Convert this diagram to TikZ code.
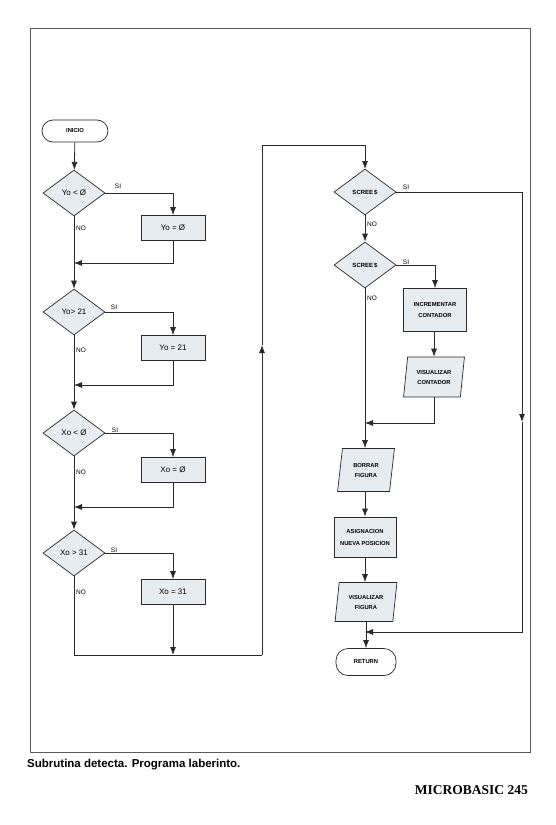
\documentclass[tikz,border=0pt]{standalone}
\usepackage{fontspec}
\setmainfont{Liberation Sans}
\newfontfamily\serifbold{Liberation Serif}
\usetikzlibrary{shapes.geometric,arrows.meta}
\definecolor{boxfill}{RGB}{230,236,240}
\definecolor{ink}{RGB}{40,40,45}
\definecolor{framec}{RGB}{90,90,95}
\begin{document}
\begin{tikzpicture}[x=1pt,y=-1pt,
  dec/.style={diamond, draw=ink, fill=boxfill, line width=0.7pt, minimum width=62pt, minimum height=46pt, inner sep=0pt, font=\fontsize{8}{9}\selectfont},
  smalldec/.style={dec, font=\fontsize{6}{6}\selectfont\bfseries},
  proc/.style={rectangle, draw=ink, fill=boxfill, line width=0.7pt, minimum width=64pt, minimum height=25pt, inner sep=1pt, font=\fontsize{8}{9}\selectfont, align=center},
  bproc/.style={proc, font=\fontsize{5.8}{11}\selectfont\bfseries},
  io/.style={trapezium, trapezium left angle=80, trapezium right angle=100, trapezium stretches=true, draw=ink, fill=boxfill, line width=0.7pt, inner sep=1pt, align=center, font=\fontsize{5.8}{10}\selectfont\bfseries},
  term/.style={rectangle, rounded corners=11pt, draw=ink, fill=white, line width=0.7pt, minimum height=22pt, inner sep=1pt, font=\fontsize{5.8}{6}\selectfont\bfseries},
  lbl/.style={inner sep=0pt, font=\fontsize{6.5}{7}\selectfont},
  flow/.style={draw=ink, line width=0.8pt},
  arr/.style={-{Latex[length=8pt,width=6pt]}}
]
\useasboundingbox (0,0) rectangle (556,825);
\draw[framec, line width=0.9pt] (30,28) rectangle (530,752);

% left column
\node[term, minimum width=66pt] (inicio) at (75,131) {INICIO};
\node[dec] (d1) at (74,193) {Yo < Ø};
\node[proc] (b1) at (173,228) {Yo = Ø};
\node[dec] (d2) at (74,312) {Yo> 21};
\node[proc] (b2) at (173,348) {Yo = 21};
\node[dec] (d3) at (74,433) {Xo < Ø};
\node[proc] (b3) at (173,470) {Xo = Ø};
\node[dec] (d4) at (74,553) {Xo > 31};
\node[proc] (b4) at (173,592) {Xo = 31};

\node[lbl] (si1) at (118,186) {SI};
\node[lbl] (no1) at (81,228) {NO};
\node[lbl] (si2) at (114,307) {SI};
\node[lbl] (no2) at (81,350) {NO};
\node[lbl] (si3) at (115,430) {SI};
\node[lbl] (no3) at (81,472) {NO};
\node[lbl] (si4) at (114,550) {SI};
\node[lbl] (no4) at (81,592) {NO};

\coordinate (j1) at (74,263);
\coordinate (j2) at (74,385);
\coordinate (j3) at (74,507);
\coordinate (j4) at (173,655);
\coordinate (c1) at (74,655);
\coordinate (c2) at (262,655);
\coordinate (c3) at (262,345);
\coordinate (c4) at (262,145);
\coordinate (c5) at (365,145);

\draw[flow,arr] (inicio) -- (d1);
\draw[flow,arr] (d1.east) -| (b1.north);
\draw[flow,arr] (b1.south) |- (j1);
\draw[flow,arr] (d1.south) -- (d2.north);
\draw[flow,arr] (d2.east) -| (b2.north);
\draw[flow,arr] (b2.south) |- (j2);
\draw[flow,arr] (d2.south) -- (d3.north);
\draw[flow,arr] (d3.east) -| (b3.north);
\draw[flow,arr] (b3.south) |- (j3);
\draw[flow,arr] (d3.south) -- (d4.north);
\draw[flow,arr] (d4.east) -| (b4.north);
\draw[flow,arr] (b4.south) -- (j4);
\draw[flow] (d4.south) -- (c1) -- (c2);
\draw[flow,arr] (c2) -- (c3);
\draw[flow,arr] (c3) -- (c4) -- (c5) -- (365,169);

% right column
\node[smalldec] (d5) at (365,192) {SCREE\,\$};
\node[smalldec] (d6) at (365,265) {SCREE\,\$};
\node[bproc, minimum width=63pt, minimum height=43pt] (inc) at (435,310) {INCREMENTAR\\CONTADOR};
\node[io, minimum width=61pt, minimum height=40pt] (visc) at (434,377) {VISUALIZAR\\CONTADOR};
\node[io, minimum width=57pt, minimum height=43pt] (borr) at (366,470) {BORRAR\\FIGURA};
\node[bproc, minimum width=62pt, minimum height=40pt, font=\fontsize{5.8}{12}\selectfont\bfseries] (asig) at (365,537) {ASIGNACION\\NUEVA POSICION};
\node[io, minimum width=62pt, minimum height=39pt] (visf) at (366,602) {VISUALIZAR\\FIGURA};
\node[term, minimum width=60pt, minimum height=27pt, rounded corners=12pt] (ret) at (366,662) {RETURN};

\node[lbl] (si5) at (406,187) {SI};
\node[lbl] (no5) at (372,224) {NO};
\node[lbl] (si6) at (406,262) {SI};
\node[lbl] (no6) at (372,298) {NO};

\coordinate (r1) at (522,192);
\coordinate (r2) at (522,422);
\coordinate (j5) at (365,423);
\coordinate (j6) at (365,632);

\draw[flow,arr] (d5.south) -- (d6.north);
\draw[flow,arr] (d6.east) -| (inc.north);
\draw[flow,arr] (inc.south -| visc.north) -- (visc.north);
\draw[flow,arr] (visc.south) |- (j5);
\draw[flow,arr] (d6.south) -- (d6.south |- borr.north);
\draw[flow,arr] (borr.south -| asig.north) -- (asig.north);
\draw[flow,arr] (asig.south) -- (asig.south |- visf.north);
\draw[flow,arr] (visf.south -| ret.north) -- (ret.north);
\draw[flow,arr] (d5.east) -- (r1) -- (r2);
\draw[flow,arr] (r2) |- (j6);

% captions
\node[anchor=base west, inner sep=0pt, font=\fontsize{11.5}{13}\selectfont\bfseries] (cap) at (27,767) {Subrutina detecta. Programa laberinto.};
\node[anchor=base east, inner sep=0pt, font=\serifbold\fontsize{13.5}{15}\selectfont\bfseries] (pg) at (528,794) {MICROBASIC 245};
\end{tikzpicture}
\end{document}
